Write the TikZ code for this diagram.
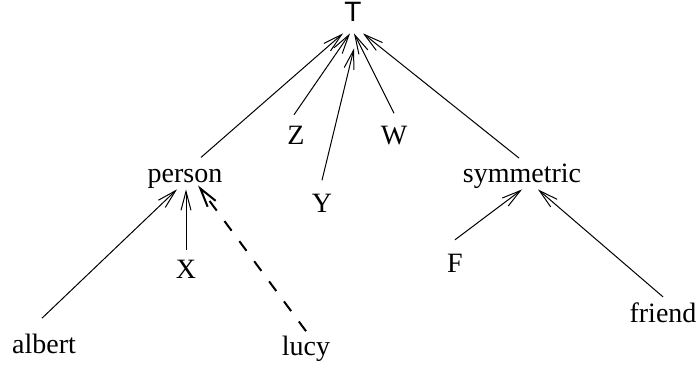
\documentclass[tikz,border=0pt]{standalone}
\usepackage{fontspec}
\setmainfont{Liberation Serif}
\setsansfont{Liberation Sans}
\usetikzlibrary{arrows.meta}

\begin{document}
\begin{tikzpicture}[x=0.5pt,y=-0.5pt,every node/.style={font=\fontsize{14}{16}\selectfont,inner sep=0pt,anchor=base}]
\tikzstyle{isa}=[-{Straight Barb[length=9.5pt,width=5pt]},line width=0.5pt,black]
\tikzstyle{weak}=[isa,line width=1pt,dash pattern=on 6pt off 6.5pt]
\useasboundingbox (0,0) rectangle (699,368);
% type hierarchy
\node[font=\fontsize{14}{16}\sffamily,inner ysep=5.5pt] (top) at (353,22) {T};
\node (person) at (185,183) {person};
\node (z) at (296,145) {Z};
\node (w) at (394,145) {W};
\node (y) at (322,213) {Y};
\node (sym) at (522,183) {symmetric};
\node (x) at (186,278) {X};
\node (f) at (455,272) {F};
\node (friend) at (663,322) {friend};
\node (albert) at (44,353) {albert};
\node (lucy) at (306,355) {lucy};
% edges up to T
\draw[isa] ([xshift=8pt,yshift=6pt]person.north) -- ([xshift=-5pt]top.south);
\draw[isa] ([xshift=-1pt,yshift=5.75pt]z.north) -- ([xshift=-1.5pt]top.south);
\draw[isa] ([yshift=7pt]y.north) -- ([xshift=0.5pt,yshift=-7.5pt]top.south);
\draw[isa] ([yshift=6.5pt]w.north) -- ([xshift=0.5pt]top.south);
\draw[isa] ([xshift=-1.5pt,yshift=3pt]sym.north) -- ([xshift=5pt]top.south);
% lower edges
\draw[isa] ([yshift=4.75pt]x.north) -- ([xshift=0.5pt]person.south);
\draw[isa] ([xshift=-1pt,yshift=7.5pt]albert.north) -- ([xshift=-4pt]person.south);
\draw[weak] ([yshift=2pt]lucy.north) -- ([xshift=6.5pt,yshift=2pt]person.south);
\draw[isa] ([yshift=6.75pt]f.north) -- (sym.south);
\draw[isa] ([yshift=2.5pt]friend.north) -- ([xshift=8pt]sym.south);
\end{tikzpicture}
\end{document}
